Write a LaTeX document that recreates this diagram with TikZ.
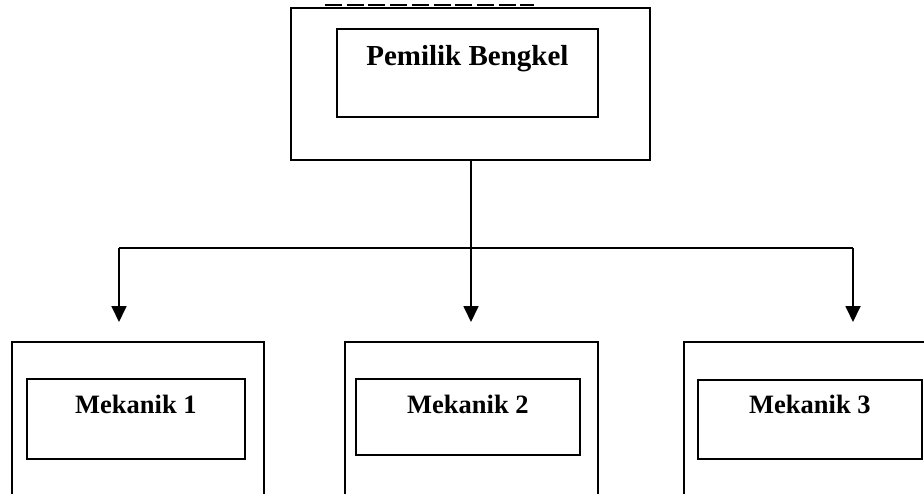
\documentclass[tikz,border=0pt]{standalone}
\usepackage{fontspec}
\setmainfont{Liberation Serif}
\usetikzlibrary{arrows.meta}
\tikzset{
  outerbox/.style={draw, line width=1.8pt, rectangle, inner sep=0pt, anchor=north west},
  innerbox/.style={draw, line width=1.8pt, rectangle, inner sep=0pt, anchor=north west, font=\bfseries\fontsize{26.5}{28}\selectfont},
  conn/.style={line width=1.8pt},
  arr/.style={line width=1.8pt, -{Triangle[length=16pt,width=15pt]}}
}
\begin{document}
\begin{tikzpicture}[x=1pt,y=-1pt]
\useasboundingbox (0,0) rectangle (924,493);
\clip (0,0) rectangle (924,493);
% top
\draw[line width=2.5pt, dash pattern=on 17pt off 4.7pt] (325,5) -- (534,5);
\node[outerbox, minimum width=359pt, minimum height=152pt] (top) at (290,7) {};
\node[innerbox, minimum width=261pt, text height=37pt, text depth=51pt, font=\bfseries\fontsize{29}{31}\selectfont] (owner) at (336,28) {Pemilik Bengkel};
% bottom outer boxes
\node[outerbox, minimum width=252pt, minimum height=170pt] (b1) at (11,341) {};
\node[outerbox, minimum width=253pt, minimum height=170pt] (b2) at (344,341) {};
\node[outerbox, minimum width=260pt, minimum height=170pt] (b3) at (683,341) {};
% inner boxes
\node[innerbox, minimum width=218pt, text height=35pt, text depth=45pt] (m1) at (26,378) {Mekanik 1};
\node[innerbox, minimum width=224pt, text height=35pt, text depth=41pt] (m2) at (355,378) {Mekanik 2};
\node[innerbox, minimum width=224pt, text height=34pt, text depth=45pt] (m3) at (697,379) {Mekanik 3};
% connectors
\coordinate (topout) at (471,159);
\coordinate (j) at (471,248);
\coordinate (jl) at (119,248);
\coordinate (jr) at (853,248);
\coordinate (t1) at (119,322);
\coordinate (t2) at (471,322);
\coordinate (t3) at (853,322);
\draw[conn] (topout) -- (j);
\draw[conn] (jl) -- (jr);
\draw[arr] (jl) -- (t1);
\draw[arr] (j) -- (t2);
\draw[arr] (jr) -- (t3);
\end{tikzpicture}
\end{document}
